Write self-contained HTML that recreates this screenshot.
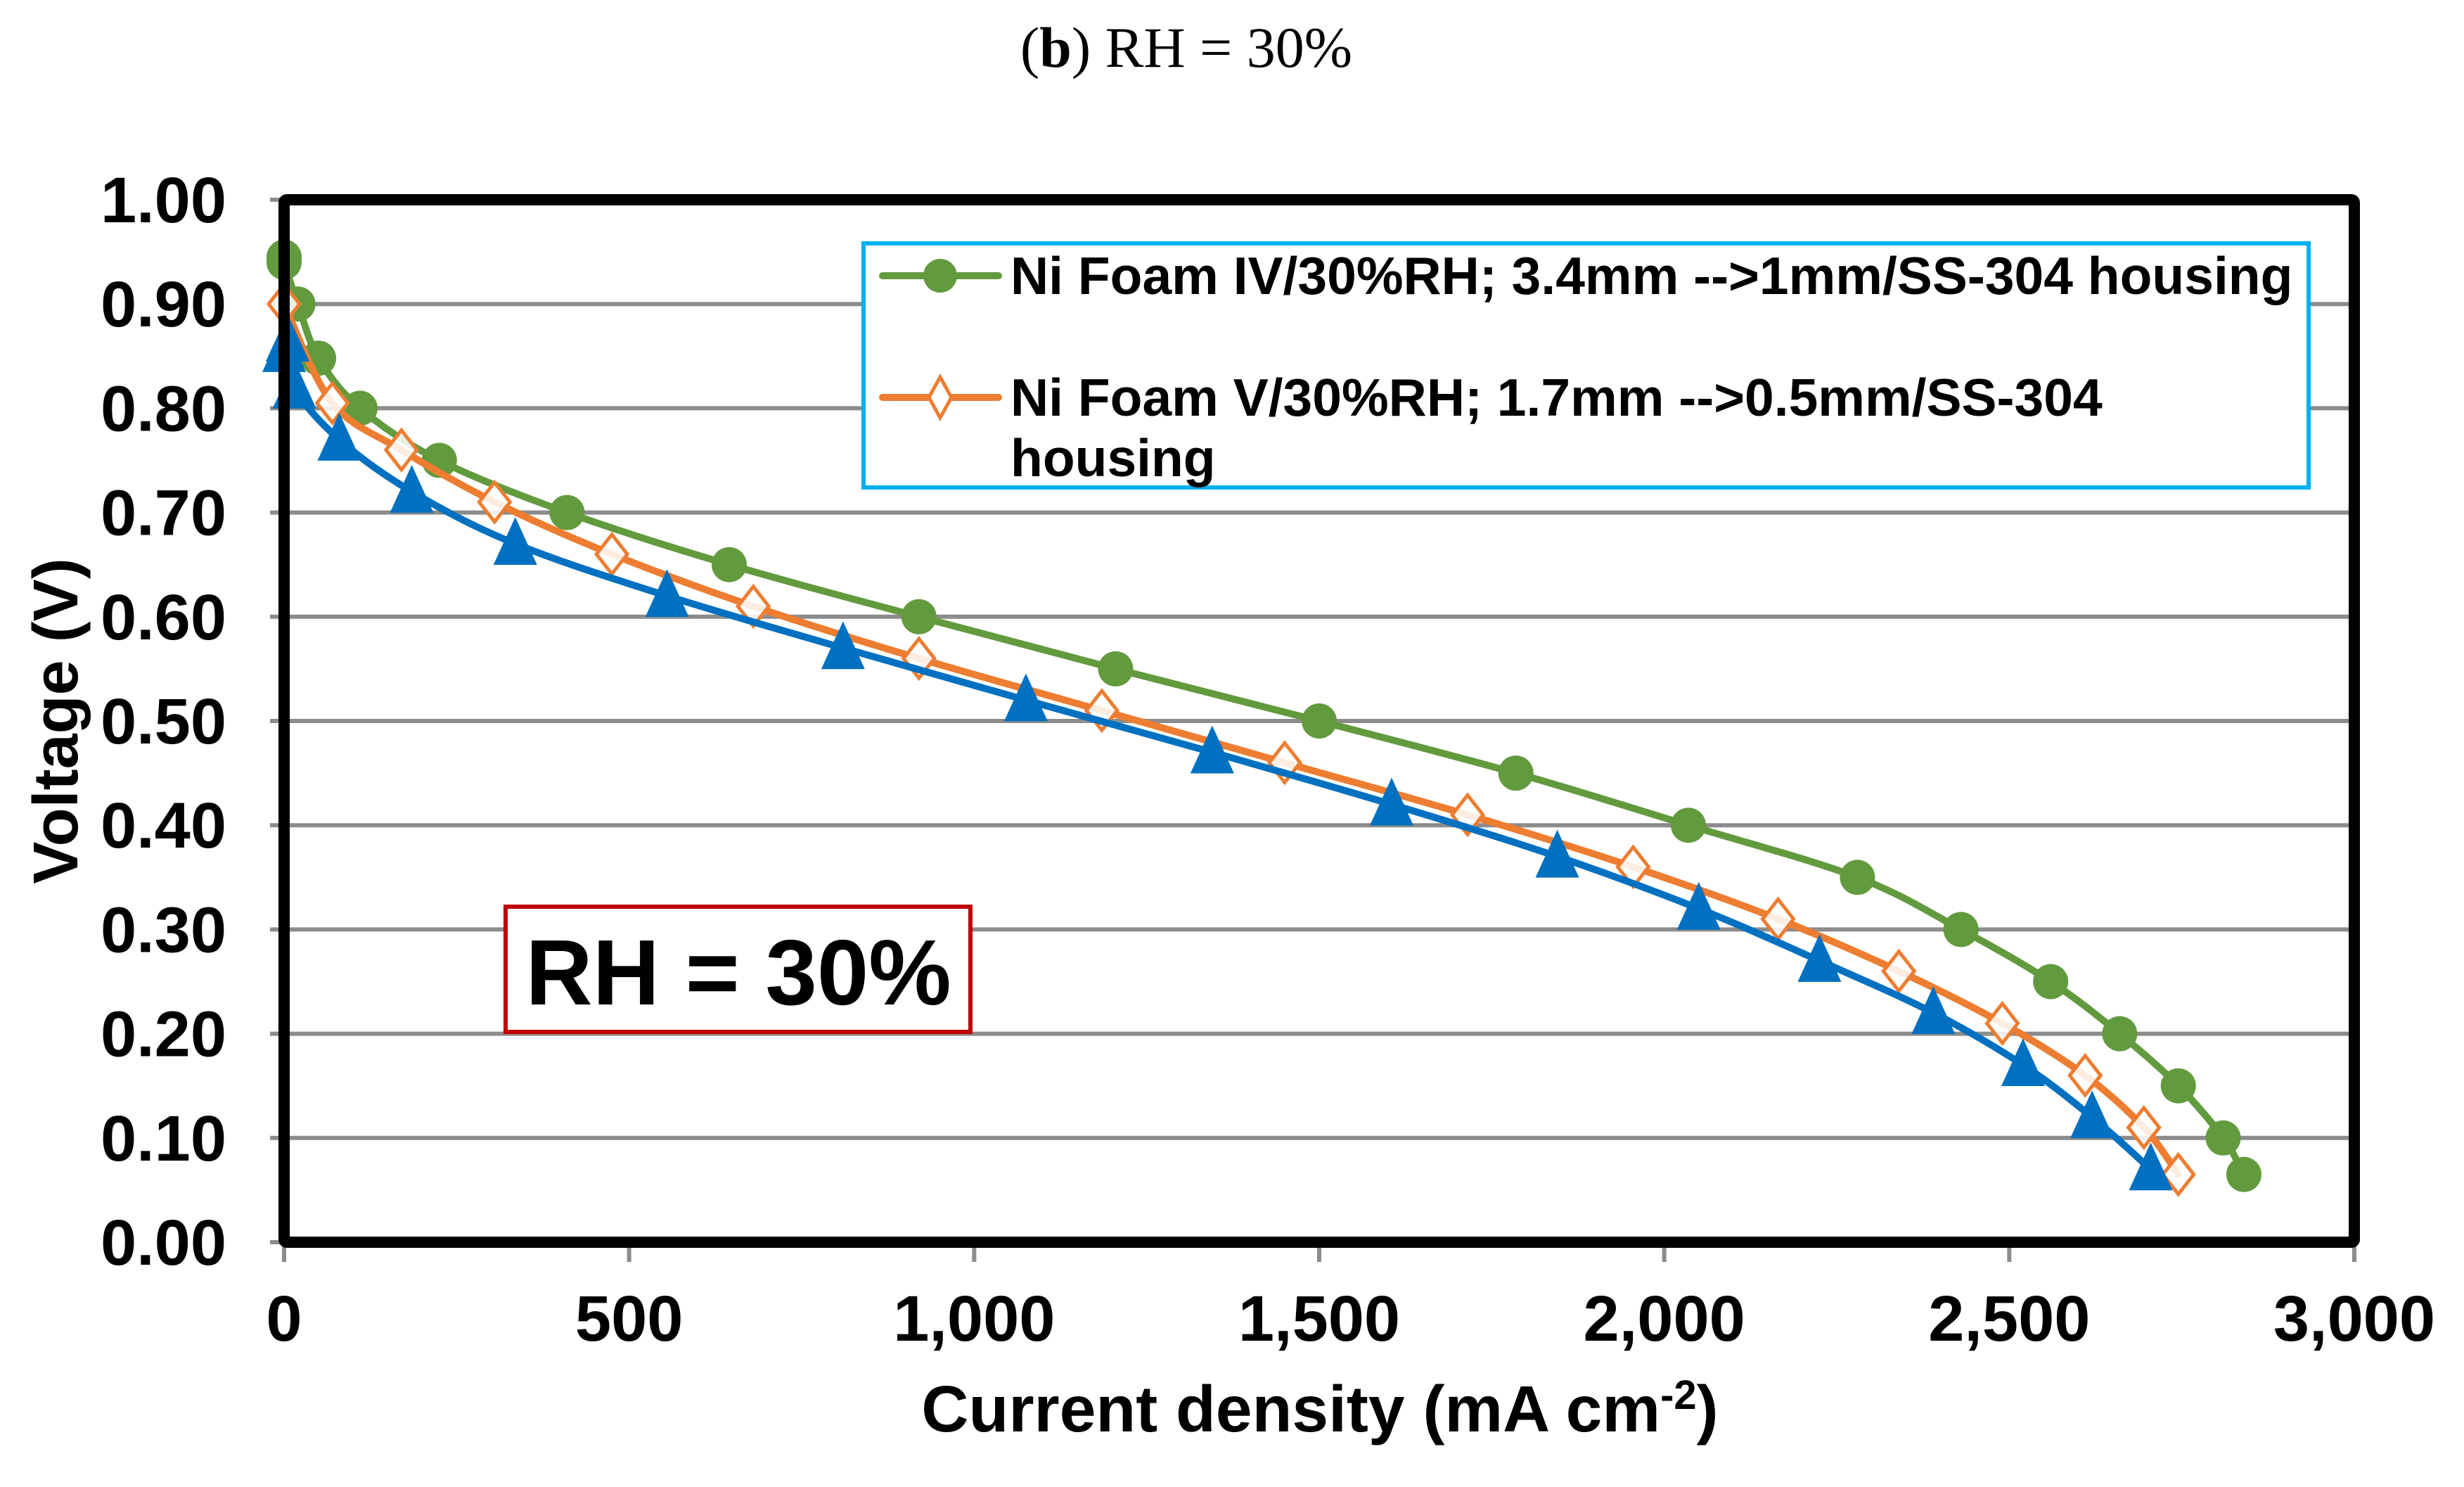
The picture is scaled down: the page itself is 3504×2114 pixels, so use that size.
<!DOCTYPE html>
<html><head><meta charset="utf-8">
<style>
html,body{margin:0;padding:0;background:#fff;}
svg{display:block;}
text{font-family:"Liberation Sans",Arial,sans-serif;font-weight:bold;fill:#000;}
</style></head>
<body>
<svg id="chart" width="3504" height="2114" viewBox="0 0 3504 2114" xmlns="http://www.w3.org/2000/svg">
<rect x="0" y="0" width="3504" height="2114" fill="#fff"/>
<text x="1687" y="95" text-anchor="middle" style="font-family:'Liberation Serif',serif;font-weight:normal;font-size:82px">(<tspan style="font-weight:bold">b</tspan>) RH = 30%</text>
<g id="grid"></g>
<g id="series"></g>
<rect x="404" y="284" width="2944" height="1482" fill="none" stroke="#000" stroke-width="16" rx="4"/>
<g id="ticks"></g>
<text x="1877" y="2035" text-anchor="middle" style="font-size:93px">Current density (mA cm<tspan dy="-32" style="font-size:58px">-2</tspan><tspan dy="32">)</tspan></text>
<text transform="translate(110,1025) rotate(-90)" text-anchor="middle" style="font-size:90px">Voltage (V)</text>
<g>
<rect x="719" y="1289" width="661" height="178" fill="#fff" stroke="#c00000" stroke-width="6"/>
<text x="1050" y="1428" text-anchor="middle" style="font-size:132px">RH = 30%</text>
</g>
<g>
<rect x="1228" y="346" width="2055" height="347" fill="#fff" stroke="#00b0f0" stroke-width="6"/>
<g>
<line x1="1255" y1="392" x2="1420" y2="392" stroke="#629a3e" stroke-width="10" stroke-linecap="round"/>
<circle cx="1337" cy="392" r="24" fill="#629a3e"/>
<text x="1437" y="418" style="font-size:75px">Ni Foam IV/30%RH; 3.4mm --&gt;1mm/SS-304 housing</text>
</g>
<g>
<line x1="1255" y1="565" x2="1420" y2="565" stroke="#ed7d31" stroke-width="10" stroke-linecap="round"/>
<polygon points="1337,536 1353,565 1337,594 1321,565" fill="#fff" stroke="#ed7d31" stroke-width="5"/>
<text x="1437" y="591" style="font-size:75px">Ni Foam V/30%RH; 1.7mm --&gt;0.5mm/SS-304</text>
<text x="1437" y="677" style="font-size:75px">housing</text>
</g>
</g>
</svg>
<script>
const xTicks = [0, 500, 1000, 1500, 2000, 2500, 3000];
const xTickLabels = ["0", "500", "1,000", "1,500", "2,000", "2,500", "3,000"];
const yTicks = [0, 0.1, 0.2, 0.3, 0.4, 0.5, 0.6, 0.7, 0.8, 0.9, 1.0];
const yTickLabels = ["0.00","0.10","0.20","0.30","0.40","0.50","0.60","0.70","0.80","0.90","1.00"];
const greenX = [0, 0, 20, 50, 110, 225, 410, 645, 920, 1205, 1500, 1785, 2035, 2280, 2430, 2560, 2660, 2745, 2810, 2840];
const greenY = [0.945, 0.94, 0.90, 0.848, 0.80, 0.75, 0.70, 0.65, 0.60, 0.55, 0.50, 0.45, 0.40, 0.35, 0.30, 0.25, 0.20, 0.15, 0.10, 0.065];
const orangeX = [0, 70, 170, 305, 475, 680, 920, 1185, 1450, 1715, 1955, 2165, 2340, 2490, 2610, 2695, 2745];
const orangeY = [0.90, 0.805, 0.76, 0.71, 0.66, 0.61, 0.56, 0.51, 0.46, 0.41, 0.36, 0.31, 0.26, 0.21, 0.16, 0.11, 0.065];
const blueX = [0, 5, 15, 80, 185, 335, 555, 810, 1075, 1345, 1605, 1845, 2050, 2225, 2390, 2520, 2620, 2705];
const blueY = [0.855, 0.865, 0.82, 0.77, 0.72, 0.67, 0.62, 0.57, 0.52, 0.47, 0.42, 0.37, 0.32, 0.27, 0.22, 0.17, 0.12, 0.07];

const NS = "http://www.w3.org/2000/svg";
const X0 = 404, X1 = 3348, Y0 = 1766, Y1 = 284;
function sx(v){ return X0 + (v - 0) / 3000 * (X1 - X0); }
function sy(v){ return Y0 - (v - 0) / 1.0 * (Y0 - Y1); }
function mk(tag, attrs, parent){ const e = document.createElementNS(NS, tag); for (const k in attrs) e.setAttribute(k, attrs[k]); parent.appendChild(e); return e; }

const grid = document.getElementById('grid');
const ticks = document.getElementById('ticks');
yTicks.forEach((v, i) => {
  const l = mk('line', {x1: X0 - 20, x2: X1, y1: sy(v), y2: sy(v), stroke: '#8c8c8c', 'stroke-width': 6}, grid);
  
  
  const t = mk('text', {x: 322, y: sy(v) + 32, 'text-anchor': 'end', style: 'font-size:92px'}, ticks);
  t.textContent = yTickLabels[i];
  
  
});
xTicks.forEach((v, i) => {
  const l = mk('line', {x1: sx(v), x2: sx(v), y1: Y0, y2: Y0 + 28, stroke: '#8c8c8c', 'stroke-width': 6}, grid);
  
  
  const t = mk('text', {x: sx(v), y: 1906, 'text-anchor': 'middle', style: 'font-size:92px'}, ticks);
  t.textContent = xTickLabels[i];
  
  
});
mk('line', {x1: X0, x2: X0, y1: Y1, y2: Y0 + 28, stroke: '#8c8c8c', 'stroke-width': 6}, grid);

function smoothPath(xs, ys){
  const p = xs.map((x, i) => [sx(x), sy(ys[i])]);
  let d = 'M' + p[0][0] + ',' + p[0][1];
  for (let i = 0; i < p.length - 1; i++){
    const a = p[Math.max(0, i - 1)], b = p[i], c = p[i + 1], e = p[Math.min(p.length - 1, i + 2)];
    const t = 1/6;
    d += ' C' + (b[0] + (c[0] - a[0]) * t) + ',' + (b[1] + (c[1] - a[1]) * t) + ' ' + (c[0] - (e[0] - b[0]) * t) + ',' + (c[1] - (e[1] - b[1]) * t) + ' ' + c[0] + ',' + c[1];
  }
  return d;
}
const series = document.getElementById('series');
function drawSeries(xs, ys, color, kind, name){
  const g = mk('g', {}, series);
  
  
  const path = mk('path', {d: smoothPath(xs, ys), fill: 'none', stroke: color, 'stroke-width': 10, 'stroke-linecap': 'round', 'stroke-linejoin': 'round'}, g);
  
  
  xs.forEach((x, i) => {
    const cx = sx(x), cy = sy(ys[i]);
    let m;
    if (kind === 'circle') m = mk('circle', {cx: cx, cy: cy, r: 25, fill: color}, g);
    else if (kind === 'diamond') m = mk('polygon', {points: `${cx},${cy-28} ${cx+22},${cy} ${cx},${cy+28} ${cx-22},${cy}`, fill: '#fff', 'fill-opacity': 0.85, stroke: color, 'stroke-width': 5}, g);
    else m = mk('polygon', {points: `${cx},${cy-38} ${cx+31},${cy+30} ${cx-31},${cy+30}`, fill: color}, g);
    
    
  });
}
drawSeries(greenX, greenY, '#629a3e', 'circle', 'series-ni-foam-iv');
drawSeries(orangeX, orangeY, '#ed7d31', 'diamond', 'series-ni-foam-v');
drawSeries(blueX, blueY, '#0070c0', 'triangle', 'series-blue');
</script>
</body></html>
